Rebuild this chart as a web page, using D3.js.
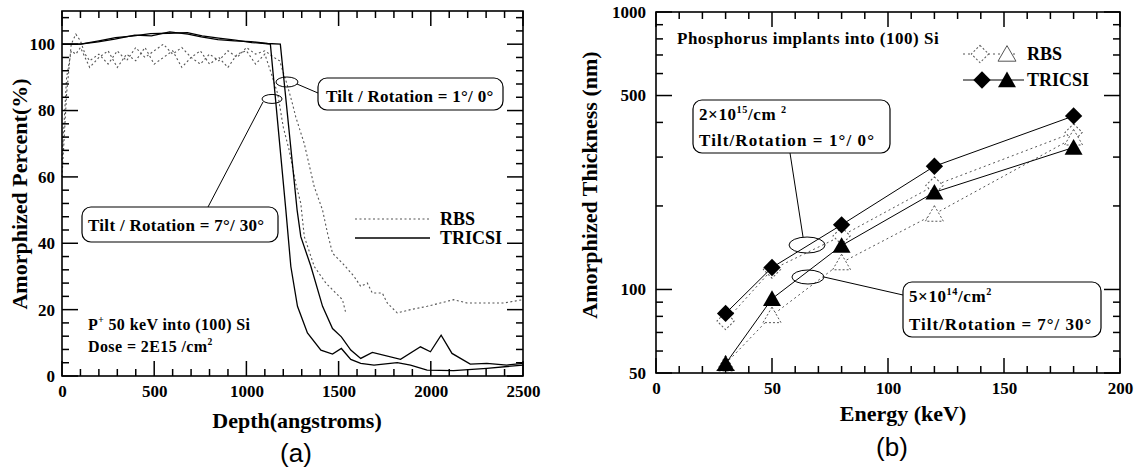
<!DOCTYPE html>
<html>
<head>
<meta charset="utf-8">
<script src="https://cdn.jsdelivr.net/npm/d3@7"></script>
<style>
  body { margin: 0; background: #fff; }
  svg text { font-family: "Liberation Serif", "Times New Roman", serif; font-weight: bold; fill: #000; }
</style>
</head>
<body>
<div id="container"></div>
<script>
// ---- panel (a): amorphized percent vs depth ----
const depthTicks = [0, 500, 1000, 1500, 2000, 2500];
const percentTicks = [0, 20, 40, 60, 80, 100];

// [depth (A), percent]
const tricsi10 = [[0,100],[100,100],[196,100.7],[286,101.5],[395,102.7],[485,102.5],[584,103.7],[683,103],[755,102.2],
  [845,101.4],[935,101],[1025,100.8],[1115,100.2],[1184,100],[1275,50],[1295,42],[1350,33],[1413,21],[1467,14.3],
  [1515,11.8],[1566,7.8],[1620,5.3],[1683,7.1],[1836,5],[1944,8.8],[1998,7.3],[2056,12.3],[2115,6.8],[2214,3.6],
  [2304,3.8],[2412,3.3],[2500,3.8]];
const tricsi730 = [[0,100],[100,100],[200,101],[290,102],[390,102.5],[480,103.2],[580,103.3],[680,103.5],[760,102.5],
  [850,101.8],[940,101.2],[1030,100.5],[1130,100],[1214,50],[1241,33],[1277,21],[1331,13],[1404,7.8],[1467,6.6],
  [1515,8.3],[1566,5],[1620,3.8],[1692,3.3],[1818,4],[1890,3.3],[1980,1.8],[2124,1.6],[2304,2.3],[2500,3.3]];
const rbs10 = [[0,60],[25,85],[50,100],[75,103],[100,101],[125,97],[150,95],[200,97],[250,94],[300,98],[350,95],
  [400,99],[450,96],[500,98],[550,100],[600,97],[650,99],[700,96],[750,94],[800,97],[850,95],[900,98],[950,96],
  [1000,99],[1050,97],[1100,98],[1150,96],[1180,95],[1220,88],[1250,82],[1268,78],[1314,70],[1368,57],[1413,50],
  [1440,43],[1467,37],[1521,34],[1584,30],[1620,27],[1656,28],[1683,25],[1737,25],[1764,22],[1818,19],[1890,20],
  [1980,21],[2052,22],[2124,23],[2196,22],[2304,22],[2395,22],[2500,23]];
const rbs730 = [[0,65],[25,90],[50,98],[75,97],[100,99],[150,93],[200,96],[250,98],[300,93],[350,97],[400,95],
  [450,99],[500,94],[550,96],[600,98],[650,93],[700,96],[750,98],[800,94],[850,96],[900,93],[950,97],[1000,98],
  [1050,94],[1100,97],[1130,92],[1170,85],[1200,75],[1232,68],[1268,58],[1295,52],[1314,42],[1368,33],[1431,28],
  [1485,25],[1521,23],[1539,19]];

// ---- panel (b): amorphized thickness vs energy ----
const energyTicks = [0, 50, 100, 150, 200];
const thicknessTicks = [50, 100, 500, 1000];
const thicknessMinor = [60, 70, 80, 90, 200, 300, 400, 600, 700, 800, 900];
const energies = [30, 50, 80, 120, 180];
const tricsiHigh = [82, 120, 171, 278, 422];   // 2e15, 1/0  (filled diamonds)
const tricsiLow = [54, 92.6, 144, 224, 325];   // 5e14, 7/30 (filled triangles)
const rbsHigh = [77, 118, 156, 237, 368];      // open diamonds
const rbsLow = [54, 80.6, 125, 187, 352];      // open triangles

const W = 1147, H = 470;
const svg = d3.select('#container').append('svg').attr('width', W).attr('height', H);

// tick labels from d3 axes, tick marks drawn inward on all four sides
function axisLabels(g, scale, orient, at, values, pad) {
  const axisFn = orient === 'bottom' ? d3.axisBottom : d3.axisLeft;
  const gg = g.append('g')
    .attr('transform', orient === 'bottom' ? `translate(0,${at})` : `translate(${at},0)`)
    .call(axisFn(scale).tickValues(values).tickSize(0).tickPadding(pad).tickFormat(d => d));
  gg.select('.domain').remove();
  gg.selectAll('line').remove();
  gg.attr('font-size', 17);
}

function tickMarks(g, scale, horizontal, from, to, values, len) {
  const sel = g.append('g').selectAll('line').data(values).join('line')
    .attr('stroke', '#000').attr('stroke-width', 1.5);
  if (horizontal) {
    // bottom edge pointing up, top edge pointing down
    sel.clone().attr('x1', d => scale(d)).attr('x2', d => scale(d)).attr('y1', to).attr('y2', to + len);
    sel.attr('x1', d => scale(d)).attr('x2', d => scale(d)).attr('y1', from).attr('y2', from - len);
  } else {
    sel.clone().attr('y1', d => scale(d)).attr('y2', d => scale(d)).attr('x1', to).attr('x2', to - len);
    sel.attr('y1', d => scale(d)).attr('y2', d => scale(d)).attr('x1', from).attr('x2', from + len);
  }
}

function frame(g, x, y) {
  const [x0, x1] = x.range(), [y0, y1] = y.range();
  g.append('rect').attr('x', x0).attr('y', y1).attr('width', x1 - x0).attr('height', y0 - y1)
    .attr('fill', 'none').attr('stroke', '#000').attr('stroke-width', 1.6);
}

function richText(g, x, y, parts, size, spacing) {
  const t = g.append('text').attr('x', x).attr('y', y).attr('font-size', size)
    .attr('letter-spacing', spacing || 0);
  let shift = 0;
  parts.forEach(([s, sup]) => {
    const target = sup ? -size * 0.42 : 0;
    t.append('tspan').attr('dy', target - shift).attr('font-size', sup ? size * 0.6 : size).text(s);
    shift = target;
  });
  return t;
}

function callout(g, x, y, w, h) {
  g.append('rect').attr('x', x).attr('y', y).attr('width', w).attr('height', h).attr('rx', 9)
    .attr('fill', '#fff').attr('stroke', '#000').attr('stroke-width', 1.2);
}

// ================= panel (a) =================
const gA = svg.append('g');
const xA = d3.scaleLinear().domain([0, 2500]).range([62, 523]);
const yA = d3.scaleLinear().domain([0, 110]).range([376, 11]);

const depthMinor = d3.range(0, 2501, 100).filter(d => d % 500 !== 0);
const percentMinor = d3.range(0, 110, 4).filter(d => d % 20 !== 0);

axisLabels(gA, xA, 'bottom', 376, depthTicks, 9);
axisLabels(gA, yA, 'left', 62, percentTicks, 7);

const lineA = d3.line().x(d => xA(d[0])).y(d => yA(d[1]));
[rbs10, rbs730].forEach(s => gA.append('path').attr('d', lineA(s)).attr('fill', 'none')
  .attr('stroke', '#555').attr('stroke-width', 1.1).attr('stroke-dasharray', '2,2.5'));
[tricsi10, tricsi730].forEach(s => gA.append('path').attr('d', lineA(s)).attr('fill', 'none')
  .attr('stroke', '#000').attr('stroke-width', 1.3));

// annotations (a)
gA.append('ellipse').attr('cx', xA(1220)).attr('cy', yA(88.6)).attr('rx', 11).attr('ry', 5)
  .attr('fill', 'none').attr('stroke', '#000');
gA.append('ellipse').attr('cx', xA(1139)).attr('cy', yA(83.5)).attr('rx', 10).attr('ry', 4.5)
  .attr('fill', 'none').attr('stroke', '#000');
gA.append('line').attr('x1', xA(1220) + 10).attr('y1', yA(88.6) + 2).attr('x2', 318).attr('y2', 93).attr('stroke', '#000');
gA.append('line').attr('x1', xA(1139) - 9).attr('y1', yA(83.5) + 3).attr('x2', 208).attr('y2', 207).attr('stroke', '#000');
callout(gA, 318, 78, 185, 32);
richText(gA, 326, 102, [['Tilt / Rotation  = 1°/ 0°']], 17, 0.3);
callout(gA, 82, 207, 196, 35);
richText(gA, 88, 231, [['Tilt / Rotation  = 7°/ 30°']], 17, 0.3);

// legend (a)
gA.append('line').attr('x1', 355).attr('x2', 430).attr('y1', 219).attr('y2', 219)
  .attr('stroke', '#555').attr('stroke-width', 1.1).attr('stroke-dasharray', '2,2.5');
gA.append('line').attr('x1', 355).attr('x2', 430).attr('y1', 238).attr('y2', 238)
  .attr('stroke', '#000').attr('stroke-width', 1.3);
gA.append('text').attr('x', 440).attr('y', 225).attr('font-size', 18).text('RBS');
gA.append('text').attr('x', 440).attr('y', 244).attr('font-size', 18).text('TRICSI');

richText(gA, 88, 330, [['P'], ['+', true], [' 50 keV into (100) Si']], 16, 0.4);
richText(gA, 88, 352, [['Dose = 2E15 /cm'], ['2', true]], 16, 0.4);

gA.append('text').attr('transform', 'translate(27,194) rotate(-90)').attr('text-anchor', 'middle')
  .attr('font-size', 22).text('Amorphized Percent(%)');
gA.append('text').attr('x', 297).attr('y', 428).attr('text-anchor', 'middle').attr('font-size', 22)
  .text('Depth(angstroms)');
gA.append('text').attr('x', 296).attr('y', 462).attr('text-anchor', 'middle').attr('font-size', 26)
  .style('font-family', '"Liberation Sans", Arial, sans-serif').style('font-weight', 'normal').text('(a)');

// ticks and frame on top
tickMarks(gA, xA, true, 376, 11, depthTicks, 15);
tickMarks(gA, xA, true, 376, 11, depthMinor, 7);
tickMarks(gA, yA, false, 62, 523, percentTicks, 16);
tickMarks(gA, yA, false, 62, 523, percentMinor, 7);
frame(gA, xA, yA);

// ================= panel (b) =================
const gB = svg.append('g');
const xB = d3.scaleLinear().domain([0, 200]).range([656, 1120]);
const yB = d3.scaleLog().domain([50, 1000]).range([373, 12]);

const energyMinor = d3.range(0, 201, 10).filter(d => d % 50 !== 0);

axisLabels(gB, xB, 'bottom', 373, energyTicks, 9);
axisLabels(gB, yB, 'left', 656, thicknessTicks, 10);

const lineB = d3.line().x(d => xB(d[0])).y(d => yB(d[1]));
const zip = vals => energies.map((e, i) => [e, vals[i]]);
const diamond = d3.symbol().type(d3.symbolSquare).size(150);
const triangle = d3.symbol().type(d3.symbolTriangle).size(140);

[rbsHigh, rbsLow].forEach(v => gB.append('path').attr('d', lineB(zip(v))).attr('fill', 'none')
  .attr('stroke', '#555').attr('stroke-width', 1).attr('stroke-dasharray', '2,3'));
gB.selectAll('.rbsD').data(zip(rbsHigh)).join('path')
  .attr('transform', d => `translate(${xB(d[0])},${yB(d[1])}) rotate(45)`).attr('d', diamond)
  .attr('fill', '#fff').attr('stroke', '#555').attr('stroke-dasharray', '2,2');
gB.selectAll('.rbsT').data(zip(rbsLow)).join('path')
  .attr('transform', d => `translate(${xB(d[0])},${yB(d[1]) + 2})`).attr('d', triangle)
  .attr('fill', '#fff').attr('stroke', '#555').attr('stroke-dasharray', '2,2');

[tricsiHigh, tricsiLow].forEach(v => gB.append('path').attr('d', lineB(zip(v))).attr('fill', 'none')
  .attr('stroke', '#000').attr('stroke-width', 1));
gB.selectAll('.trD').data(zip(tricsiHigh)).join('path')
  .attr('transform', d => `translate(${xB(d[0])},${yB(d[1])}) rotate(45)`).attr('d', diamond).attr('fill', '#000');
gB.selectAll('.trT').data(zip(tricsiLow)).join('path')
  .attr('transform', d => `translate(${xB(d[0])},${yB(d[1]) + 2})`).attr('d', triangle).attr('fill', '#000');

// legend (b)
gB.append('line').attr('x1', 963).attr('x2', 1018).attr('y1', 54).attr('y2', 54)
  .attr('stroke', '#555').attr('stroke-dasharray', '2,3');
gB.append('path').attr('transform', 'translate(980,54) rotate(45)').attr('d', diamond)
  .attr('fill', '#fff').attr('stroke', '#555').attr('stroke-dasharray', '2,2');
gB.append('path').attr('transform', 'translate(1007,56)').attr('d', triangle)
  .attr('fill', '#fff').attr('stroke', '#555');
gB.append('line').attr('x1', 963).attr('x2', 1024).attr('y1', 80).attr('y2', 80).attr('stroke', '#000');
gB.append('path').attr('transform', 'translate(982,80) rotate(45)').attr('d', diamond).attr('fill', '#000');
gB.append('path').attr('transform', 'translate(1007,82)').attr('d', triangle).attr('fill', '#000');
gB.append('text').attr('x', 1027).attr('y', 60).attr('font-size', 18).text('RBS');
gB.append('text').attr('x', 1027).attr('y', 86).attr('font-size', 18).text('TRICSI');

richText(gB, 677, 44, [['Phosphorus implants into (100) Si']], 17, 0.5);

// annotations (b)
gB.append('ellipse').attr('cx', xB(65.1)).attr('cy', yB(144.6)).attr('rx', 18).attr('ry', 8)
  .attr('fill', 'none').attr('stroke', '#000');
gB.append('ellipse').attr('cx', xB(65.5)).attr('cy', yB(110.9)).attr('rx', 16).attr('ry', 7)
  .attr('fill', 'none').attr('stroke', '#000');
gB.append('line').attr('x1', 790).attr('y1', 153).attr('x2', xB(65.1) - 4).attr('y2', yB(144.6) - 8).attr('stroke', '#000');
gB.append('line').attr('x1', xB(65.5) + 16).attr('y1', yB(110.9)).attr('x2', 903).attr('y2', 295).attr('stroke', '#000');
callout(gB, 693, 100, 197, 53);
richText(gB, 699, 120, [['2×10'], ['15', true], ['/cm '], ['2', true]], 17, 0.6);
richText(gB, 699, 146, [['Tilt/Rotation = 1°/ 0°']], 17, 1.1);
callout(gB, 903, 282, 198, 55);
richText(gB, 909, 302, [['5×10'], ['14', true], ['/cm'], ['2', true]], 17, 0.6);
richText(gB, 909, 330, [['Tilt/Rotation = 7°/ 30°']], 17, 1.0);

gB.append('text').attr('transform', 'translate(597,185) rotate(-90)').attr('text-anchor', 'middle')
  .attr('font-size', 22).text('Amorphized Thickness (nm)');
gB.append('text').attr('x', 903).attr('y', 421).attr('text-anchor', 'middle').attr('font-size', 22)
  .text('Energy (keV)');
gB.append('text').attr('x', 892).attr('y', 456).attr('text-anchor', 'middle').attr('font-size', 26)
  .style('font-family', '"Liberation Sans", Arial, sans-serif').style('font-weight', 'normal').text('(b)');

tickMarks(gB, xB, true, 373, 12, energyTicks, 15);
tickMarks(gB, xB, true, 373, 12, energyMinor, 7);
tickMarks(gB, yB, false, 656, 1120, thicknessTicks, 16);
tickMarks(gB, yB, false, 656, 1120, thicknessMinor, 7);
frame(gB, xB, yB);
</script>
</body>
</html>
